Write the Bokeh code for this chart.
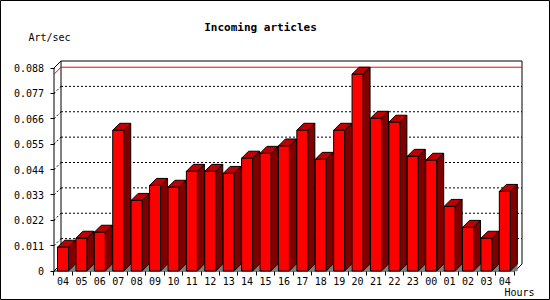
from bokeh.plotting import figure
from bokeh.models import Range1d, FixedTicker, Label
from bokeh.embed import file_html
from bokeh.resources import INLINE

# ---------------- data ----------------
hours = ["04", "05", "06", "07", "08", "09", "10", "11", "12", "13", "14", "15", "16",
         "17", "18", "19", "20", "21", "22", "23", "00", "01", "02", "03", "04"]
art_per_sec = [0.0103, 0.0142, 0.0168, 0.0610, 0.0306, 0.0371, 0.0363, 0.0432, 0.0432,
               0.0423, 0.0489, 0.0510, 0.0542, 0.0610, 0.0484, 0.0610, 0.0853, 0.0662,
               0.0645, 0.0497, 0.0480, 0.0280, 0.0189, 0.0142, 0.0345]
y_ticks = [0, 0.011, 0.022, 0.033, 0.044, 0.055, 0.066, 0.077, 0.088]
y_tick_labels = ["0", "0.011", "0.022", "0.033", "0.044", "0.055", "0.066", "0.077", "0.088"]
title_text = "Incoming articles"
y_title = "Art/sec"
x_title = "Hours"

# ---------------- layout (page pixels) ----------------
W, H = 550, 300
KX = 18.41               # px per category
X_ORIGIN = 62.5          # page x of category 0
KY = 203 / 0.088         # px per unit value
Y_ORIGIN = 270.5         # page y of value 0
DEPTH = 7                # 3D depth in px


def dxp(px):
    return (px - X_ORIGIN) / KX


def dyp(py):
    return (Y_ORIGIN - py) / KY


dx = DEPTH / KX
dy = DEPTH / KY
hw = 5.5 / KX
X0 = dxp(53.5)            # front left
X1 = dxp(521.5)           # back right
YTOP = y_ticks[-1]

FONT = "DejaVu Sans Mono"
FS = "10px"

p = figure(width=W, height=H, output_backend="svg", toolbar_location=None,
           x_range=Range1d(dxp(0), dxp(W)), y_range=Range1d(dyp(H), dyp(0)),
           min_border_left=0, min_border_right=0, min_border_top=0, min_border_bottom=0,
           title=None)
p.background_fill_color = "white"
p.border_fill_color = "white"
p.outline_line_color = "black"
p.outline_line_width = 1
p.xgrid.visible = False
p.ygrid.visible = False

# ---- axes (fixed inside the frame) ----
ya = p.yaxis[0]
ya.fixed_location = X0
ya.ticker = FixedTicker(ticks=y_ticks, minor_ticks=[])
ya.major_label_overrides = {v: s for v, s in zip(y_ticks, y_tick_labels)}
ya.axis_line_color = None
ya.major_tick_out = 4
ya.major_tick_in = 0
ya.major_tick_line_color = "black"
ya.minor_tick_line_color = None
ya.major_label_standoff = 6
ya.major_label_text_font = FONT
ya.major_label_text_font_size = FS
ya.major_label_text_color = "black"

xa = p.xaxis[0]
n = len(hours)
xa.fixed_location = 0
xa.ticker = FixedTicker(ticks=list(range(n)), minor_ticks=[i - 0.5 for i in range(n + 1)])
xa.major_label_overrides = {i: h for i, h in enumerate(hours)}
xa.axis_line_color = None
xa.major_tick_out = 0
xa.major_tick_in = 0
xa.minor_tick_out = 4
xa.minor_tick_in = 0
xa.minor_tick_line_color = "black"
xa.major_label_standoff = 2
xa.major_label_text_font = FONT
xa.major_label_text_font_size = FS
xa.major_label_text_color = "black"

# ---- back wall grid (dotted) ----
gv = y_ticks[1:-1]
p.segment(x0=[X0 + dx] * len(gv), x1=[X1] * len(gv), y0=[v + dy for v in gv],
          y1=[v + dy for v in gv], line_color="black", line_width=1, line_dash="2 2")
p.segment(x0=[X0] * len(gv), x1=[X0 + dx] * len(gv), y0=gv,
          y1=[v + dy for v in gv], line_color="black", line_width=1, line_dash="2 2")

# ---- frame lines ----
fx0 = [X0, X0, X0 + dx, X0 + dx, X1, X0, X1 - dx, X0]
fx1 = [X0, X0 + dx, X1, X0 + dx, X1, X1 - dx, X1, X0 + dx]
fy0 = [0, YTOP, YTOP + dy, dy, dy, 0, 0, 0]
fy1 = [YTOP, YTOP + dy, YTOP + dy, YTOP + dy, YTOP + dy, 0, dy, dy]
p.segment(x0=fx0, x1=fx1, y0=fy0, y1=fy1, line_color="black", line_width=1)

# ---- max line ----
vmax = max(art_per_sec)
p.line([X0, X0 + dx, X1], [vmax, vmax + dy, vmax + dy], line_color="red", line_width=1)

# ---- 3D bars ----
shadow_xs, shadow_ys, side_xs, side_ys, top_xs, top_ys, front_xs, front_ys = ([] for _ in range(8))
for i, v in enumerate(art_per_sec):
    l, r = i - hw, i + hw
    shadow_xs.append([r, r + dx, r + dx]); shadow_ys.append([0, dy, 0])
    side_xs.append([r, r + dx, r + dx, r]); side_ys.append([0, dy, v + dy, v])
    top_xs.append([l, l + dx, r + dx, r]); top_ys.append([v, v + dy, v + dy, v])
    front_xs.append([l, r, r, l]); front_ys.append([0, 0, v, v])

p.patches(shadow_xs, shadow_ys, fill_color="#808080", line_color="#808080", line_width=0.5)
p.patches(side_xs, side_ys, fill_color="#800000", line_color="black", line_width=1)
p.patches(top_xs, top_ys, fill_color="#c00000", line_color="black", line_width=1)
p.patches(front_xs, front_ys, fill_color="#ff0000", line_color="black", line_width=1)

# ---- texts ----
def lab(text, px, py, align, bold=False, size=FS):
    return Label(x=dxp(px), y=dyp(py), text=text,
                 text_font=FONT, text_font_size=size, text_align=align,
                 text_baseline="middle", text_color="black",
                 text_font_style="bold" if bold else "normal")


p.add_layout(lab(title_text, 260, 27, "center", bold=True, size="11px"))
p.add_layout(lab(y_title, 28, 37, "left"))
p.add_layout(lab(x_title, 504, 292, "left"))

open("out.html", "w").write(file_html(p, INLINE))
